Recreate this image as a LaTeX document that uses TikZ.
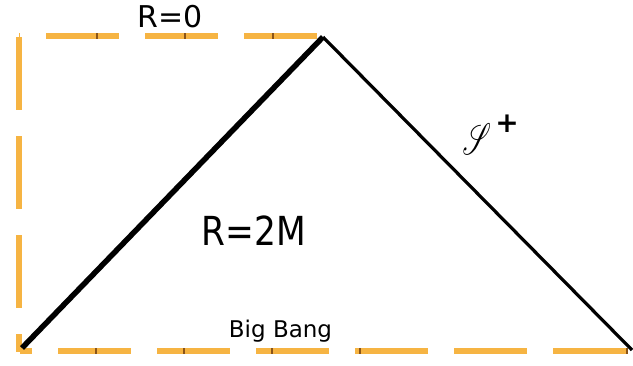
\documentclass[tikz,border=0pt]{standalone}
\usepackage{fontspec}
\usepackage{mathrsfs}
\setmainfont{DejaVu Sans}
\definecolor{bord}{HTML}{F6B443}
\definecolor{mark}{HTML}{8A5418}
\tikzset{
  edgeline/.style={draw=bord, line width=6.5pt, dash pattern=on 73pt off 26pt},
  tick/.style={fill=mark, draw=none},
  lbl/.style={inner sep=0pt, anchor=base, text=black},
}
\begin{document}
\begin{tikzpicture}[x=1pt,y=-1pt]
\useasboundingbox (0,0) rectangle (633,365);
\fill[white] (0,0) rectangle (633,365);
% corners
\coordinate (tl) at (19,36);
\coordinate (tr) at (323,36);
\coordinate (bl) at (19,352);
\coordinate (br) at (630,351);
\coordinate (apex) at (323,37);
\coordinate (lb) at (22,348);
\coordinate (rb) at (632,350);
% orange dashed border
\draw[edgeline, dash phase=72pt] (tl) -- (tr);
\draw[edgeline, dash phase=0pt] (19,37) -- (bl);
\draw[edgeline, dash phase=61pt] (20,351) -- (br);
% small dark marks
\foreach \x in {97,185,273} \fill[tick] (\x-1.2,33) rectangle (\x+1.2,39);
\foreach \x in {96,184,272,360,627} \fill[tick] (\x-1.2,348) rectangle (\x+1.2,354);
% black lines
\draw[black, line width=5.5pt] (lb) -- (apex);
\draw[black, line width=3.2pt] (apex) -- (rb);
% labels
\node[lbl, font=\fontsize{30}{30}\selectfont] (r0) at (170,27) {R=0};
\node[lbl, font=\fontsize{40}{40}\selectfont] (r2m) at (254,245) {\scalebox{0.86}[1]{R=2M}};
\node[lbl, font=\fontsize{23}{23}\selectfont] (bb) at (280.5,337) {Big Bang};
\node[inner sep=0pt, text=black] (scri) at (477,139) {\scalebox{2.7}[4.4]{$\mathscr{S}$}};
\node[inner sep=0pt, text=black, font=\fontsize{28}{28}\selectfont\bfseries] (plus) at (507,124) {+};
\end{tikzpicture}
\end{document}
